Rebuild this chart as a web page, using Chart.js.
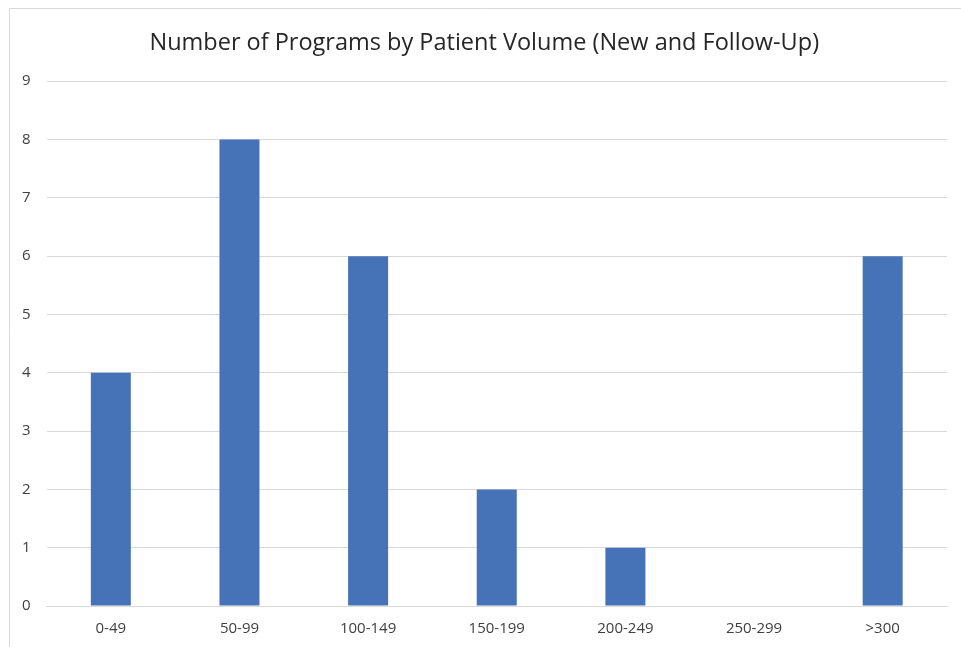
<!DOCTYPE html>
<html>
<head>
<meta charset="utf-8">
<script src="https://cdn.jsdelivr.net/npm/chart.js@4/dist/chart.umd.min.js"></script>
<style>
html,body{margin:0;padding:0;background:#fff;}
#wrap{position:relative;width:961px;height:647px;}
</style>
</head>
<body>
<div id="wrap"><canvas id="c" width="961" height="647"></canvas></div>
<script>
const categories = ["0-49","50-99","100-149","150-199","200-249","250-299",">300"];
const programCounts = [4, 8, 6, 2, 1, 0, 6];
const yTicks = [0,1,2,3,4,5,6,7,8,9];
const chartTitle = "Number of Programs by Patient Volume (New and Follow-Up)";

const borderPlugin = {
  id: 'outerBorder',
  beforeDraw(chart) {
    const ctx = chart.ctx;
    ctx.save();
    ctx.fillStyle = '#fff';
    ctx.fillRect(0,0,chart.width,chart.height);
    ctx.strokeStyle = '#d9d9d9';
    ctx.lineWidth = 1;
    ctx.beginPath();
    ctx.moveTo(9.5, chart.height + 5);
    ctx.lineTo(9.5, 8.5);
    ctx.lineTo(chart.width + 5, 8.5);
    ctx.stroke();
    ctx.restore();
  }
};

new Chart(document.getElementById('c'), {
  type: 'bar',
  data: {
    labels: categories,
    datasets: [{
      data: programCounts,
      backgroundColor: '#4672b8',
      borderWidth: 0,
      categoryPercentage: 1,
      barPercentage: 0.311
    }]
  },
  options: {
    responsive: false,
    animation: false,
    layout: { padding: { left: 21.5, right: 14, top: 29, bottom: 0 } },
    plugins: {
      legend: { display: false },
      tooltip: { enabled: false },
      title: {
        display: true,
        text: chartTitle,
        color: '#262626',
        font: { family: 'Open Sans', size: 23.5, weight: 'normal' },
        padding: { top: 0, bottom: 24 }
      }
    },
    scales: {
      x: {
        grid: { display: false, drawTicks: false },
        border: { color: '#d9d9d9', width: 1 },
        ticks: { color: '#404040', font: { family: 'Open Sans', size: 15 }, padding: 14, maxRotation: 0 },
        afterFit(scale) { scale.height = 41; }
      },
      y: {
        min: 0, max: 9,
        afterBuildTicks(scale) { scale.ticks = yTicks.map(v => ({ value: v })); },
        grid: { color: '#d9d9d9', drawTicks: false },
        border: { display: false },
        ticks: { color: '#404040', font: { family: 'Open Sans', size: 15 }, padding: 16 },
        afterFit(scale) { scale.width = 25; }
      }
    }
  },
  plugins: [borderPlugin]
});
</script>
</body>
</html>
